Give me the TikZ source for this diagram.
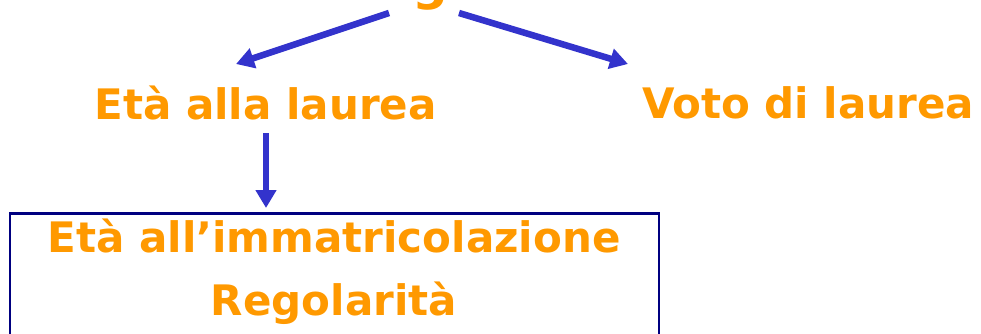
\documentclass[tikz,border=0pt]{standalone}
\usepackage{fontspec}
\setmainfont{DejaVu Sans}
\usetikzlibrary{arrows.meta}
\definecolor{lblorange}{HTML}{FF9900}
\definecolor{arrblue}{HTML}{3333CC}
\definecolor{boxnavy}{HTML}{000080}
\tikzset{
  lbl/.style={text=lblorange, font=\fontsize{42}{50}\selectfont\bfseries, inner sep=0pt, anchor=base},
  conn/.style={draw=arrblue, line width=6.5pt, -{Triangle[width=20pt,length=18pt]}},
  framebox/.style={draw=boxnavy, line width=2.5pt, inner sep=0pt}
}
\begin{document}
\begin{tikzpicture}[x=1pt,y=-1pt]
\useasboundingbox (0,0) rectangle (981,333);
\begin{scope}
\clip (0,0) rectangle (981,333);
\node[lbl, font=\fontsize{50}{56}\selectfont\bfseries] (topword) at (430,-1) {g};
\node[framebox, minimum width=649pt, minimum height=160pt, anchor=north] (box) at (334.5,212) {};
\node[lbl] (ageL) at (265.5,119) {Età alla laurea};
\node[lbl] (voto) at (808,118) {Voto di laurea};
\node[lbl] (imm) at (334,252) {Età all’immatricolazione};
\node[lbl] (reg) at (334,315) {Regolarità};
\coordinate (tl) at (389,13);
\coordinate (tr) at (459,13);
\coordinate (lt) at (236,64);
\coordinate (rt) at (628,64);
\coordinate (ds) at (266,133);
\coordinate (dt) at (266,208);
\draw[conn] (tl) -- (lt);
\draw[conn] (tr) -- (rt);
\draw[conn] (ds) -- (dt);
\end{scope}
\end{tikzpicture}
\end{document}
